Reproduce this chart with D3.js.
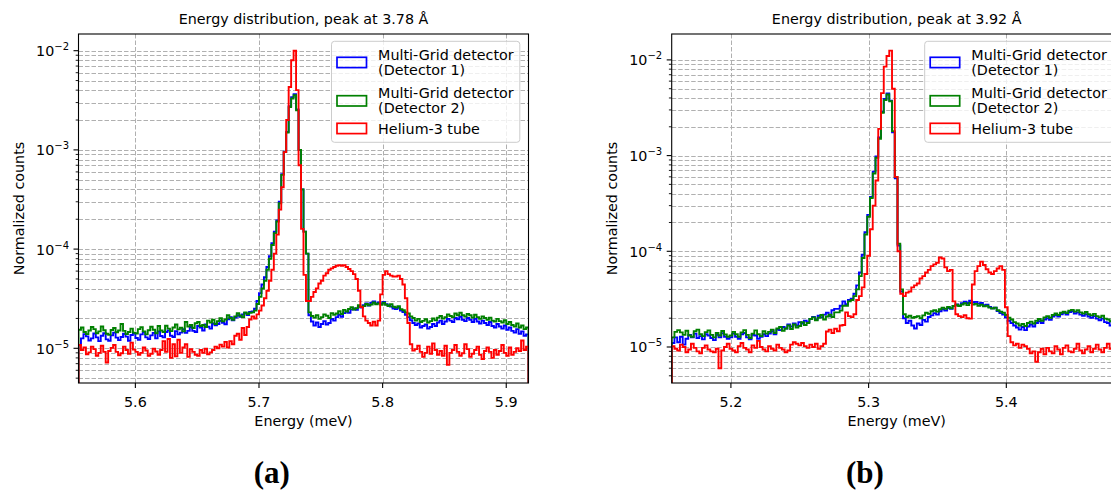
<!DOCTYPE html>
<html><head><meta charset="utf-8">
<script src="https://cdn.jsdelivr.net/npm/d3@7"></script>
<style>body{margin:0;background:#fff;}svg{display:block;font-family:"DejaVu Sans",sans-serif;}</style>
</head><body><svg id="c" width="1111" height="491"></svg>
<script>
// ---------------- DATA ----------------
// normalized counts per bin, in units of 1e-6
const UNIT = 1e-6;
const seriesLabels = [["Multi-Grid detector", "(Detector 1)"], ["Multi-Grid detector", "(Detector 2)"], ["Helium-3 tube"]];
const seriesColors = ["#0000ff", "#008000", "#ff0000"];
const yTickValues = [1e-5, 1e-4, 1e-3, 1e-2];
const yTickExponents = ["−5", "−4", "−3", "−2"];
const binWidth = 0.002;

// panel (a)
const titleA = "Energy distribution, peak at 3.78 Å";
const xLimA = [5.554, 5.918];
const yLimA = [Math.pow(10, -5.3498), Math.pow(10, -1.8317)];
const xTicksA = [5.6, 5.7, 5.8, 5.9];
const binStartA = 5.554;
const det1A = [10.8,12.6,13.9,13.2,12.0,12.6,14.1,12.9,11.8,13.4,14.2,
 12.3,11.9,13.5,14.4,12.8,12.1,13.0,14.0,13.1,11.9,13.6,14.2,
 12.7,12.2,13.8,14.6,12.9,12.4,13.5,14.3,12.6,14.8,13.3,
 12.9,14.6,15.1,13.4,13.0,14.9,13.8,14.4,15.6,14.3,15.0,16.4,
 15.0,14.6,16.8,16.2,15.1,17.4,16.5,15.8,17.8,17.1,
 17.6,18.9,18.1,17.5,19.6,20.6,19.2,
 20.4,21.6,20.8,21.9,22.7,21.6,23.2,
 23.5,25,30,36,44,52,66,85,115,150,195,300,570,960,1520,2750,3400,3650,2550,1000,400,150,90,
 21.5,18.6,17.0,18.2,16.4,17.6,18.8,17.4,18.0,19.8,
 19.0,20.6,21.8,20.8,22.6,23.4,22.8,24.6,25.2,24.4,
 26.4,25.8,27.2,28.4,27.0,28.8,29.6,28.2,29.0,28.4,
 29.4,27.8,27.0,26.4,25.2,24.8,25.6,24.0,23.2,21.8,
 20.6,19.2,18.0,17.2,17.8,16.2,16.8,17.4,15.8,16.4,
 17.6,16.8,18.2,19.0,17.6,18.6,19.8,19.0,18.4,20.2,
 19.6,20.8,19.4,18.8,20.2,19.4,18.4,19.8,18.6,17.8,
 19.0,18.0,17.2,18.4,16.8,16.2,17.6,16.6,15.8,17.0,
 15.4,16.2,15.0,14.4,15.6,14.0,14.8,13.4,13.8];
const det2A = [15.4,16.2,14.6,13.9,15.1,16.4,15.6,14.2,14.8,16.6,15.2,
 14.0,13.7,15.3,16.0,14.5,15.1,17.6,15.0,13.9,14.6,15.8,14.4,
 14.1,15.6,16.3,14.8,13.8,15.2,16.5,15.4,14.2,16.8,15.1,
 14.6,16.9,15.8,14.9,16.2,17.4,15.5,16.1,14.8,18.4,16.6,17.2,
 16.0,17.9,18.4,16.8,17.2,16.4,19.0,18.2,19.4,17.6,
 18.8,20.1,18.7,19.5,21.6,20.2,19.4,
 21.0,22.6,21.4,20.6,23.0,22.1,22.8,
 23,24,28,33,40,48,62,80,110,145,190,290,560,950,1500,2700,3300,3550,2500,1000,400,150,90,
 23,21.2,20.4,21.6,19.8,20.6,22.0,21.3,20.2,22.6,
 21.8,22.4,23.6,22.2,24.4,23.5,24.9,26.0,24.6,25.4,
 27.2,26.0,26.6,28.0,27.1,27.6,29.0,27.8,28.4,27.4,
 28.8,27.5,26.6,27.9,26.2,25.8,26.6,24.8,24.2,23.0,
 22.4,21.0,20.2,19.0,19.8,18.4,18.9,19.6,18.2,18.8,
 20.0,19.1,20.4,21.2,19.9,20.6,22.0,21.2,20.6,22.4,
 21.5,22.8,21.6,20.9,22.2,21.5,20.4,21.8,20.6,19.8,
 21.0,20.2,19.4,20.4,19.0,18.6,19.8,18.8,18.2,19.2,
 17.6,18.4,17.2,16.6,17.8,16.2,17.0,15.6,16.2];
const he3A = [10.8,9.6,10.2,8.7,9.1,10.4,9.8,8.4,9.0,10.6,9.2,
 7.2,
 9.4,10.1,10.8,9.2,8.5,8.9,10.4,9.6,8.8,11.4,9.7,
 9.2,8.6,9.0,10.2,9.5,8.4,8.8,9.9,9.3,8.6,9.6,
 11.8,9.2,12.4,8.0,11.0,8.3,12.2,9.0,10.2,11.0,8.2,9.8,
 9.2,8.6,8.4,9.6,9.0,9.9,8.7,9.1,9.6,10.4,
 10.0,10.9,10.4,11.6,10.2,11.8,11.0,
 13.4,14.0,12.2,16.0,13.6,16.4,19.5,
 21,20,22,24,27,32,38,48,62,90,140,250,420,950,2000,4300,8000,10000,4000,700,160,55,30,
 30,33,37,
 40,45,48,54,57,62,64,66,68,69,68,69,66,63,60,56,50,38,26,21,
 19,18,17,18.5,17,19,35,55,60,56,54,53,53,54,50,44,32,18,11,9.5,
 9.8,10.6,9.2,8.2,9.0,10.4,8.8,11.2,9.6,8.6,
 9.4,8.4,10.6,6.8,9.0,9.6,10.8,9.2,8.4,8.9,
 11.0,9.8,8.2,8.8,9.6,10.4,8.6,7.8,9.4,10.2,
 9.2,8.0,9.6,8.6,9.4,10.8,9.0,8.4,10.2,8.6,
 9.2,10.0,9.4,12.0,9.6,10.4];

// panel (b)
const titleB = "Energy distribution, peak at 3.92 Å";
const xLimB = [5.157, 5.4838];
const yLimB = [Math.pow(10, -5.3762), Math.pow(10, -1.7294)];
const xTicksB = [5.2, 5.3, 5.4];
const binStartB = 5.157;
const det1B = [11.0,12.6,11.2,12.8,10.6,12.2,13.4,12.6,13.8,12.4,13.0,
 12.0,13.6,13.2,12.4,11.8,13.4,12.6,13.9,12.8,12.2,
 12.6,13.8,12.8,12.2,13.6,14.0,12.6,12.0,13.4,13.2,
 12.2,12.8,13.6,13.0,13.8,14.6,13.6,15.2,15.0,16.2,
 15.6,17.2,16.4,17.6,16.8,18.2,17.6,18.8,18.2,19.6,
 20.6,19.4,21.2,20.4,21.8,22.8,21.0,24.2,25.0,
 25,27,30,28,31,32,36,44,60,92,158,240,370,680,980,1550,2850,3900,4450,3750,1750,580,115,38,
 20,17.8,18.8,16.8,15.6,17.6,17.0,19.2,18.4,20.6,
 21.4,22.6,21.8,23.6,24.8,24.0,25.6,25.0,26.8,27.8,
 27.2,28.6,29.8,28.8,30.4,29.4,29.6,28.4,28.8,27.4,
 27.6,26.2,25.4,25.8,23.8,22.6,21.8,20.4,18.8,17.8,
 16.8,16.0,15.2,16.2,15.0,16.4,17.2,16.4,17.8,18.6,
 17.8,19.4,20.0,19.2,20.8,21.6,20.8,22.0,22.8,21.8,
 23.2,23.6,22.4,23.0,21.8,21.2,22.0,20.8,20.2,21.0,
 19.8,19.0,19.8,18.2,17.8,16.8,17.4,15.8,15.2,14.4];
const det2B = [12.6,14.4,15.0,14.2,13.4,14.8,13.2,12.8,14.6,15.2,13.6,
 13.0,14.3,14.9,13.4,12.6,14.0,13.2,14.7,13.5,12.8,
 13.2,14.4,13.6,12.8,14.2,15.0,13.4,12.4,13.8,14.9,
 13.6,13.0,14.6,13.8,14.4,15.2,14.0,15.6,16.2,14.8,
 15.6,16.8,15.4,17.2,16.0,16.6,18.2,17.0,17.8,19.6,
 20.4,19.0,20.2,21.6,19.4,20.8,21.8,20.6,23.0,
 23,24,27,27,30,31,34,40,55,85,150,230,360,650,950,1500,2800,3800,4350,3700,1800,600,120,40,
 22,20.6,21.2,20.2,20.6,21.0,20.0,21.4,22.8,22.2,
 23.6,24.2,23.4,24.8,25.8,25.0,26.2,25.4,26.8,27.6,
 26.8,27.8,28.6,27.4,28.8,27.8,28.2,27.0,27.6,26.6,
 27.0,25.8,25.2,25.8,24.2,23.4,22.8,21.6,20.2,19.4,
 18.2,17.6,16.8,17.4,16.6,17.8,18.4,17.6,18.8,19.6,
 18.8,20.4,21.0,20.2,21.6,22.4,21.6,22.8,23.4,22.6,
 24.0,24.4,23.4,24.2,23.0,22.4,23.2,22.0,21.4,22.2,
 21.0,20.4,21.2,19.8,19.4,18.6,19.2,17.8,17.2,16.4];
const he3B = [10.2,9.6,9.2,10.6,10.0,8.8,9.4,10.8,9.8,9.0,8.6,9.8,10.4,9.4,9.0,8.8,9.6,
 6.0,
 9.2,10.0,10.8,9.6,9.2,8.8,10.2,11.0,9.8,9.4,8.8,10.4,9.8,11.6,10.0,9.4,9.0,10.2,9.6,9.2,10.6,9.8,9.4,8.8,
 9.2,10.6,11.2,10.8,10.4,11.0,10.2,
 9.8,10.6,10.0,10.8,9.6,10.2,10.8,
 14.5,15.2,14.0,15.5,
 14.6,16.8,17.0,23,21,20.5,22,
 31,34,42,58,90,170,300,550,1900,4500,8500,11000,12500,5000,600,100,
 36,34,37,38,42,44,46,52,55,60,64,70,73,76,86,84,68,62,64,30,
 22,21,20.5,21.5,20,19.8,45,62,70,78,72,65,60,58,62,66,70,64,26,13,
 11.2,10.4,10.8,9.8,10.6,10.2,9.6,8.6,9.0,7.0,8.8,9.6,8.4,
 9.8,9.0,8.6,10.2,9.4,8.4,9.8,10.4,9.0,8.8,
 9.6,10.8,9.2,8.6,9.4,10.2,8.8,9.6,10.6,9.4,
 8.8,9.8,10.8,9.6,9.2,10.0,10.6,9.8];

// ---------------- LAYOUT ----------------
const FS = 14.3;
const panels = [
  {title: titleA, xlim: xLimA, ylim: yLimA, xticks: xTicksA, start: binStartA, series: [det1A, det2A, he3A], caption: "(a)",
   left: 78.5, right: 528.5, top: 34, bottom: 383, ylabelX: 23.5, captionX: 271.8},
  {title: titleB, xlim: xLimB, ylim: yLimB, xticks: xTicksB, start: binStartB, series: [det1B, det2B, he3B], caption: "(b)",
   left: 671.7, right: 1121.7, top: 34, bottom: 383, ylabelX: 617, captionX: 865}
];

const svg = d3.select("#c");
svg.append("rect").attr("width", 1111).attr("height", 491).attr("fill", "#fff");
const defs = svg.append("defs");

panels.forEach((p, idx) => {
  const x = d3.scaleLinear().domain(p.xlim).range([p.left, p.right]);
  const y = d3.scaleLog().domain(p.ylim).range([p.bottom, p.top]);
  const clipId = "clip" + idx;
  defs.append("clipPath").attr("id", clipId).append("rect")
    .attr("x", p.left).attr("y", p.top).attr("width", p.right - p.left).attr("height", p.bottom - p.top);
  const g = svg.append("g");

  // grid
  const grid = g.append("g").attr("clip-path", `url(#${clipId})`)
    .attr("stroke", "#b0b0b0").attr("stroke-width", 1).attr("stroke-dasharray", "4.5,2");
  const yGrid = [];
  for (let k = -7; k <= -1; k++) for (let m = 1; m <= 9; m++) {
    const v = m * Math.pow(10, k);
    if (v >= p.ylim[0] && v <= p.ylim[1]) yGrid.push({v, major: m === 1});
  }
  grid.selectAll(".hg").data(yGrid).join("line").attr("class", "hg")
    .attr("x1", p.left).attr("x2", p.right)
    .attr("y1", d => Math.round(y(d.v)) + 0.5).attr("y2", d => Math.round(y(d.v)) + 0.5);
  grid.selectAll(".vg").data(p.xticks).join("line").attr("class", "vg")
    .attr("y1", p.top).attr("y2", p.bottom)
    .attr("x1", d => Math.round(x(d)) + 0.5).attr("x2", d => Math.round(x(d)) + 0.5);

  // histograms (step outlines)
  const line = d3.line().curve(d3.curveStepAfter);
  const dataG = g.append("g").attr("clip-path", `url(#${clipId})`);
  p.series.forEach((vals, si) => {
    const pts = [[x(p.start), p.bottom + 30]];
    vals.forEach((v, i) => pts.push([x(p.start + i * binWidth), y(v * UNIT)]));
    const xe = x(p.start + vals.length * binWidth);
    pts.push([xe, y(vals[vals.length - 1] * UNIT)]);
    pts.push([xe, p.bottom + 30]);
    dataG.append("path").attr("d", line(pts)).attr("fill", "none")
      .attr("stroke", seriesColors[si]).attr("stroke-width", 1.9).attr("stroke-linejoin", "miter");
  });

  // spines
  g.append("rect").attr("x", p.left).attr("y", p.top)
    .attr("width", p.right - p.left).attr("height", p.bottom - p.top)
    .attr("fill", "none").attr("stroke", "#000").attr("stroke-width", 1.1);

  // y ticks
  g.selectAll(".ymin").data(yGrid.filter(d => !d.major)).join("line")
    .attr("x1", p.left - 2.8).attr("x2", p.left)
    .attr("y1", d => y(d.v)).attr("y2", d => y(d.v)).attr("stroke", "#000").attr("stroke-width", 0.9);
  g.selectAll(".ymaj").data(yTickValues.filter(v => v >= p.ylim[0] && v <= p.ylim[1])).join("line")
    .attr("x1", p.left - 5).attr("x2", p.left)
    .attr("y1", d => y(d)).attr("y2", d => y(d)).attr("stroke", "#000").attr("stroke-width", 1.1);
  yTickValues.forEach((v, i) => {
    if (v < p.ylim[0] || v > p.ylim[1]) return;
    const t = g.append("text").attr("x", p.left - 9.5).attr("y", y(v) + 5.5)
      .attr("text-anchor", "end").attr("font-size", FS).attr("fill", "#000");
    t.append("tspan").text("10");
    t.append("tspan").attr("dy", -6).attr("font-size", 10).text(yTickExponents[i]);
  });

  // x ticks
  g.selectAll(".xt").data(p.xticks).join("line")
    .attr("x1", d => x(d)).attr("x2", d => x(d))
    .attr("y1", p.bottom).attr("y2", p.bottom + 5).attr("stroke", "#000").attr("stroke-width", 1.1);
  g.selectAll(".xl").data(p.xticks).join("text")
    .attr("x", d => x(d)).attr("y", p.bottom + 24).attr("text-anchor", "middle")
    .attr("font-size", FS).attr("fill", "#000").text(d => d.toFixed(1));

  // labels
  const cx = (p.left + p.right) / 2;
  g.append("text").attr("x", cx).attr("y", 24).attr("text-anchor", "middle")
    .attr("font-size", FS).text(p.title);
  g.append("text").attr("x", cx).attr("y", 426).attr("text-anchor", "middle")
    .attr("font-size", FS).text("Energy (meV)");
  g.append("text").attr("transform", `translate(${p.ylabelX},${(p.top + p.bottom) / 2}) rotate(-90)`)
    .attr("text-anchor", "middle").attr("font-size", FS).text("Normalized counts");
  g.append("text").attr("x", p.captionX).attr("y", 483.3).attr("text-anchor", "middle")
    .attr("font-family", "'Liberation Serif', serif").attr("font-weight", "bold")
    .attr("font-size", 31).text(p.caption);

  // legend
  const lx = p.right - 197, ly = p.top + 7.3;
  const lg = g.append("g");
  lg.append("rect").attr("x", lx).attr("y", ly).attr("width", 188.3).attr("height", 101)
    .attr("rx", 3).attr("fill", "#fff").attr("fill-opacity", 0.8)
    .attr("stroke", "#cccccc").attr("stroke-width", 1);
  const patchTops = [16, 54.4, 82];
  const textBase = [[18.7, 33.7], [56.7, 71.7], [92.7]];
  seriesLabels.forEach((lab, i) => {
    lg.append("rect").attr("x", lx + 5.5).attr("y", ly + patchTops[i]).attr("width", 29.5).attr("height", 10.3)
      .attr("fill", "none").attr("stroke", seriesColors[i]).attr("stroke-width", 1.7);
    lab.forEach((s, j) => {
      lg.append("text").attr("x", lx + 46.6).attr("y", ly + textBase[i][j])
        .attr("font-size", FS).attr("fill", "#000").text(s);
    });
  });
});
</script>
</body></html>
